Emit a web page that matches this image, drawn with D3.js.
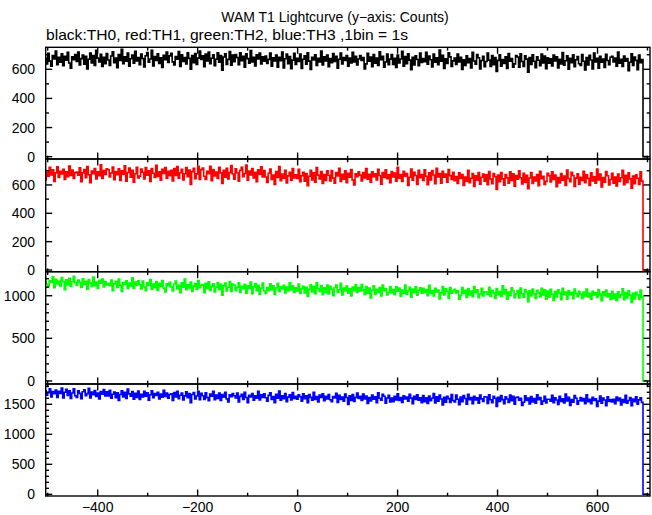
<!DOCTYPE html>
<html>
<head>
<meta charset="utf-8">
<script src="https://cdn.jsdelivr.net/npm/d3@7"></script>
<style>
  html, body { margin: 0; padding: 0; background: #fff; }
  svg { display: block; }
  text { font-family: "Liberation Sans", Arial, Helvetica, sans-serif; fill: #000; }
</style>
</head>
<body>
<svg id="chart" width="652" height="515"></svg>
<script>
// ---------------- DATA ----------------
const titleText = "WAM T1 Lightcurve (y\u2212axis: Counts)";
const subtitleText = "black:TH0, red:TH1, green:TH2, blue:TH3 ,1bin = 1s";

const binStart = -506;   // s
const binWidth = 3;      // s (values read every 3 s)

const th0 = [
676,637,710,656,621,695,671,726,632,683,648,707,624,690,662,716,643,608,686,666,701,
653,718,630,673,698,635,689,603,669,712,644,694,627,730,677,650,703,619,682,639,708,
664,626,691,720,646,678,611,702,661,738,638,685,655,711,622,672,697,641,723,658,680,
631,704,674,616,693,715,649,671,731,623,688,660,706,640,679,613,696,665,718,647,692,
709,651,629,687,670,722,620,699,654,681,636,714,675,600,694,645,708,633,677,726,667,
693,618,705,657,719,638,676,700,625,669,713,648,695,594,684,707,634,668,721,628,698,
652,702,680,632,713,659,690,615,706,673,642,729,650,682,623,700,671,712,637,686,656,
691,640,668,711,621,679,657,698,615,683,659,719,610,672,704,638,688,604,663,709,634,
675,653,705,606,669,692,635,714,656,599,682,664,699,627,676,650,726,629,686,658,697,
618,673,646,708,654,690,608,669,712,637,681,661,695,622,677,643,717,651,689,630,671,
695,660,680,602,637,710,656,684,618,701,642,677,626,720,665,689,615,650,704,631,670,
702,633,676,613,697,644,671,724,621,688,638,706,663,597,683,629,692,667,624,712,647,
674,652,717,635,691,666,616,705,649,679,632,732,655,696,605,672,640,714,685,620,658,
678,633,704,651,682,599,665,626,692,646,674,609,717,657,635,701,679,602,660,690,617,
653,712,663,619,694,631,680,586,661,700,622,667,640,685,606,708,656,673,615,637,695,
684,614,707,654,620,693,670,580,681,634,699,655,611,686,662,624,705,643,691,604,679,
642,672,623,698,657,686,609,668,636,715,628,659,692,601,676,645,699,618,666,688,638,
626,701,655,596,680,630,696,664,602,711,651,675,607,690,649,671,613,703,660,632,683,
689,650,678,621,718,642,668,619,691,656,674,591,648,706,627,684,661,598,697,645,667,
0,0,0,0];

const th1 = [
634,689,662,724,670,706,624,685,728,653,697,677,711,638,693,659,733,667,705,646,687,
691,669,721,622,685,708,651,730,672,615,698,680,715,643,692,666,742,645,702,674,713,
707,656,684,727,637,695,673,714,631,699,675,735,626,688,720,654,704,620,679,725,650,
662,712,690,642,723,669,700,625,716,683,652,739,660,692,633,710,681,722,647,696,666,
703,628,715,667,729,648,686,710,635,679,723,658,705,604,694,717,644,678,731,638,708,
719,661,639,697,680,732,630,709,664,691,646,724,685,610,704,655,718,643,687,736,677,
641,714,684,626,703,725,659,681,741,633,698,670,716,650,689,623,706,675,728,657,702,
656,618,683,712,638,670,603,694,653,730,630,677,647,703,614,664,689,633,715,650,672,
645,710,622,665,690,627,681,595,661,704,636,686,619,722,669,642,695,611,674,631,700,
668,629,702,648,613,687,663,718,624,675,640,699,616,682,654,708,635,600,678,658,693,
669,628,687,649,715,641,675,620,693,659,679,635,710,667,606,688,652,706,644,671,616,
695,656,684,627,724,648,674,625,697,662,680,597,654,712,633,690,667,604,703,651,673,
632,707,661,602,686,636,702,670,608,717,657,681,613,696,655,677,619,709,666,638,689,
630,660,611,686,645,674,597,656,624,703,616,647,680,589,664,633,687,606,654,676,626,
672,602,695,642,608,681,658,568,669,622,687,643,599,674,650,612,693,631,679,592,667,
641,700,651,607,682,619,668,574,649,688,610,655,628,673,594,696,644,661,603,625,683,
666,621,692,639,670,587,653,614,680,634,662,597,705,645,623,689,667,590,648,678,605,
654,632,697,615,671,646,596,685,629,659,612,712,635,676,585,652,620,694,665,600,638,
682,613,656,593,677,624,651,704,601,668,618,686,643,577,663,609,672,647,604,692,627,
0,0,0,0];

const th2 = [
1206,1134,1106,1179,1158,1223,1095,1194,1137,1171,1115,1213,1164,1070,1188,1126,1205,1111,1166,1228,1154,
1122,1185,1157,1097,1198,1131,1170,1076,1190,1148,1109,1218,1119,1160,1086,1182,1146,1197,1103,1165,1127,
1146,1119,1184,1060,1139,1168,1096,1195,1122,1051,1155,1133,1176,1086,1148,1115,1210,1089,1160,1125,1174,
1128,1079,1171,1103,1059,1152,1122,1191,1073,1137,1093,1167,1063,1146,1110,1178,1087,1043,1141,1115,1159,
1103,1055,1137,1173,1080,1121,1037,1151,1099,1196,1070,1129,1092,1162,1050,1113,1144,1074,1177,1095,1123,
1130,1036,1145,1085,1163,1061,1109,1139,1045,1100,1155,1074,1133,1006,1119,1148,1056,1099,1165,1049,1137,
1126,1062,1098,1151,1039,1111,1084,1135,1031,1116,1086,1161,1025,1103,1143,1060,1123,1017,1091,1149,1055,
1027,1096,1062,1140,1072,1117,1014,1091,1145,1051,1106,1081,1123,1032,1101,1058,1151,1068,1116,1042,1093,
1055,1137,1026,1080,1112,1033,1100,993,1075,1129,1044,1107,1023,1152,1085,1051,1118,1013,1092,1038,1124,
1020,1111,1074,1001,1097,1125,1042,1070,1145,1010,1091,1056,1114,1031,1080,997,1101,1062,1129,1040,1096,
1057,1131,1069,1014,1108,1029,1091,973,1067,1116,1018,1074,1040,1097,998,1126,1061,1082,1009,1037,1109,
1035,1073,1011,1105,1054,1090,994,1068,1027,1126,1017,1056,1098,984,1078,1039,1106,1005,1065,1093,1030,
1086,1037,1072,1001,1122,1027,1060,998,1088,1045,1067,963,1034,1107,1008,1080,1051,972,1096,1031,1058,
1076,1032,1058,960,1004,1095,1027,1063,980,1084,1010,1054,990,1108,1039,1069,976,1020,1088,996,1045,
1044,1016,1098,995,1065,1034,971,1083,1013,1050,991,1117,1020,1072,958,1042,1001,1094,1058,976,1024,
1061,973,1089,1023,980,1072,1043,930,1057,998,1079,1024,969,1063,1033,985,1087,1009,1069,960,1054,
982,1076,1018,944,1050,987,1070,1030,952,1088,1013,1043,958,1062,1011,1038,966,1078,1025,989,1053,
1021,970,1044,996,1079,986,1029,960,1051,1009,1034,979,1073,1019,942,1045,1000,1068,990,1024,955,
1053,967,1021,942,1047,980,1014,1081,952,1036,973,1058,1004,922,1029,962,1041,1009,955,1066,984,
0,0,0,0];

const th3 = [
1729,1652,1694,1759,1623,1711,1677,1739,1614,1717,1680,1771,1607,1700,1748,1649,1724,1598,1687,1756,1643,
1616,1726,1681,1594,1710,1743,1643,1677,1767,1604,1702,1660,1729,1630,1689,1589,1714,1667,1747,1640,1708,
1637,1735,1603,1668,1705,1610,1692,1562,1662,1726,1624,1699,1598,1753,1674,1633,1713,1586,1681,1616,1720,
1582,1665,1624,1717,1636,1690,1567,1659,1723,1610,1677,1646,1698,1588,1671,1619,1731,1631,1689,1600,1662,
1676,1563,1694,1621,1715,1593,1650,1686,1573,1640,1706,1608,1679,1527,1662,1697,1587,1638,1718,1578,1683,
1641,1582,1692,1611,1558,1670,1634,1716,1575,1652,1599,1688,1563,1662,1620,1701,1591,1539,1656,1626,1679,
1641,1607,1686,1537,1632,1666,1580,1699,1612,1526,1651,1624,1677,1568,1642,1603,1717,1571,1657,1615,1674,
1608,1551,1649,1692,1581,1629,1528,1665,1603,1719,1569,1640,1594,1679,1545,1620,1658,1573,1697,1599,1632,
1583,1658,1625,1553,1675,1593,1640,1527,1664,1615,1568,1699,1580,1628,1539,1655,1612,1673,1560,1634,1589,
1663,1575,1542,1630,1604,1682,1529,1648,1580,1621,1553,1670,1612,1499,1640,1566,1661,1548,1615,1688,1599,
1632,1564,1671,1591,1638,1513,1613,1554,1653,1584,1626,1528,1691,1601,1567,1667,1634,1518,1605,1650,1540,
1605,1543,1632,1574,1674,1562,1614,1531,1641,1589,1620,1553,1666,1602,1510,1633,1579,1660,1567,1608,1525,
1646,1542,1607,1512,1639,1559,1600,1679,1524,1625,1550,1652,1588,1488,1618,1536,1631,1594,1529,1661,1563,
1539,1652,1583,1494,1620,1545,1644,1596,1503,1667,1576,1613,1510,1635,1573,1607,1519,1655,1590,1548,1625,
1621,1516,1656,1576,1525,1635,1600,1465,1617,1546,1644,1578,1511,1624,1588,1531,1653,1559,1632,1501,1614,
1621,1568,1598,1481,1533,1643,1562,1604,1505,1630,1541,1594,1517,1658,1576,1612,1500,1553,1634,1524,1583,
1584,1551,1649,1525,1610,1572,1497,1631,1546,1592,1521,1671,1555,1617,1480,1581,1533,1644,1601,1503,1560,
1614,1555,1597,1511,1657,1543,1582,1508,1617,1564,1591,1466,1552,1639,1520,1606,1572,1477,1626,1547,1581,
1538,1583,1509,1622,1561,1604,1488,1577,1529,1648,1517,1564,1613,1476,1589,1542,1624,1502,1574,1607,1532,
0,0,0,0];

const seriesColors = ["#000000", "#ff0000", "#00ff00", "#0000ff"];
const xDomain = [-504, 705];
const xMajorTicks = [-400, -200, 0, 200, 400, 600];
const xMinorTicks = [-500, -300, -100, 100, 300, 500, 700];
const yDomains = [[-16, 751], [-12, 783], [-36, 1282], [-28, 1838]];
const yMajorTicks = [[0, 200, 400, 600], [0, 200, 400, 600], [0, 500, 1000], [0, 500, 1000, 1500]];
const yMinorStep = [100, 100, 100, 100];

// ---------------- LAYOUT ----------------
const svg = d3.select("#chart");
svg.append("rect").attr("width", 652).attr("height", 515).attr("fill", "#fff");

const plotLeft = 45.7, plotRight = 650;
const panelTops = [47.3, 159, 271.7, 384];
const panelBottoms = [159, 271.7, 384, 496];
const majorLen = 6.5, minorLen = 3.3;

const x = d3.scaleLinear().domain(xDomain).range([plotLeft, plotRight]);

svg.append("text").attr("x", 335).attr("y", 22).attr("text-anchor", "middle")
  .style("font-size", "14px").text(titleText);
svg.append("text").attr("x", 46).attr("y", 40).attr("text-anchor", "start")
  .attr("textLength", 362).attr("lengthAdjust", "spacingAndGlyphs")
  .style("font-size", "14.5px").text(subtitleText);

const allSeries = [th0, th1, th2, th3];

allSeries.forEach((vals, i) => {
  const top = panelTops[i], bot = panelBottoms[i];
  const y = d3.scaleLinear().domain(yDomains[i]).range([bot, top]);
  const g = svg.append("g");

  const clipId = "clip" + i;
  svg.append("clipPath").attr("id", clipId).append("rect")
    .attr("x", plotLeft).attr("y", top).attr("width", plotRight - plotLeft).attr("height", bot - top);

  const pts = vals.map((v, k) => [binStart + k * binWidth, v]);
  const line = d3.line().x(d => x(d[0])).y(d => y(d[1])).curve(d3.curveStepAfter);
  g.append("path").attr("d", line(pts)).attr("fill", "none")
    .attr("stroke", seriesColors[i]).attr("stroke-width", 1.6)
    .attr("clip-path", `url(#${clipId})`);

  // frame
  g.append("rect").attr("x", plotLeft).attr("y", top).attr("width", plotRight - plotLeft)
    .attr("height", bot - top).attr("fill", "none").attr("stroke", "#000").attr("stroke-width", 1.4);

  const tk = g.append("g").attr("stroke", "#000").attr("stroke-width", 1.4);
  const xt = xMajorTicks.map(v => [v, majorLen]).concat(xMinorTicks.map(v => [v, minorLen]));
  xt.forEach(([v, len]) => {
    const px = x(v);
    tk.append("line").attr("x1", px).attr("x2", px).attr("y1", bot).attr("y2", bot - len);
    tk.append("line").attr("x1", px).attr("x2", px).attr("y1", top).attr("y2", top + len);
  });
  const d1 = yDomains[i][1];
  const minors = d3.range(0, d1, yMinorStep[i]).filter(v => !yMajorTicks[i].includes(v));
  const yt = yMajorTicks[i].map(v => [v, majorLen]).concat(minors.map(v => [v, minorLen]));
  yt.forEach(([v, len]) => {
    const py = y(v);
    tk.append("line").attr("x1", plotLeft).attr("x2", plotLeft + len).attr("y1", py).attr("y2", py);
    tk.append("line").attr("x1", plotRight).attr("x2", plotRight - len).attr("y1", py).attr("y2", py);
  });
  yMajorTicks[i].forEach(v => {
    g.append("text").attr("x", 35).attr("y", y(v)).attr("dy", "0.36em")
      .attr("text-anchor", "end").style("font-size", "14px").text(d3.format("d")(v));
  });
  if (i === allSeries.length - 1) {
    xMajorTicks.forEach(v => {
      g.append("text").attr("x", x(v)).attr("y", 512).attr("text-anchor", "middle")
        .style("font-size", "14px").text(v < 0 ? "\u2212" + Math.abs(v) : String(v));
    });
  }
});
</script>
</body>
</html>
